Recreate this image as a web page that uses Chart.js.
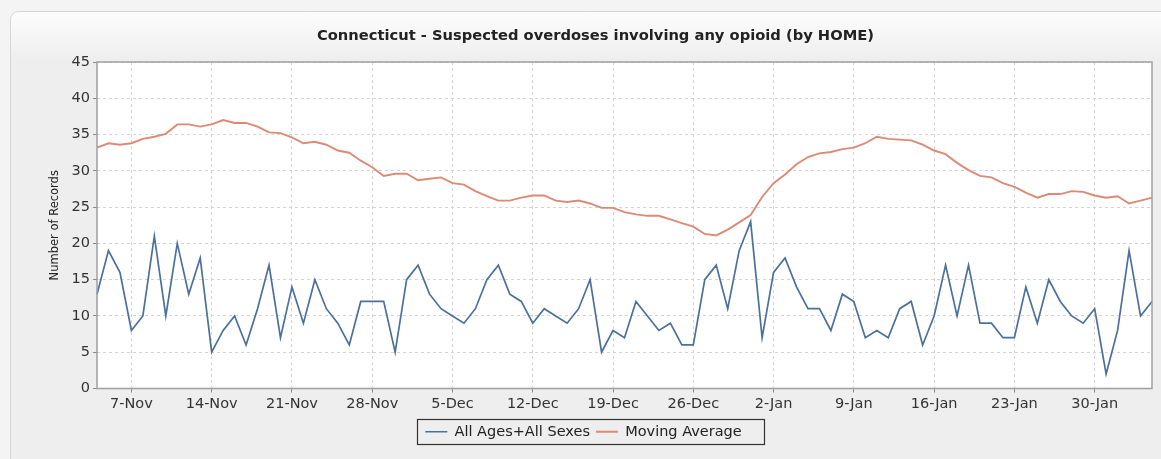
<!DOCTYPE html>
<html>
<head>
<meta charset="utf-8">
<title>Connecticut - Suspected overdoses involving any opioid</title>
<script src="https://cdn.jsdelivr.net/npm/chart.js@4.4.1/dist/chart.umd.min.js"></script>
<style>
  html, body { margin: 0; padding: 0; background: #f4f4f4; }
  #wrap { width: 1161px; height: 459px; }
</style>
</head>
<body>
<div id="wrap"><canvas id="odChart" width="1161" height="459"></canvas></div>
<script>
// Days, 4-Nov to 4-Feb
const days = [
    '4-Nov', '5-Nov', '6-Nov', '7-Nov', '8-Nov', '9-Nov', '10-Nov', '11-Nov', '12-Nov', '13-Nov',
    '14-Nov', '15-Nov', '16-Nov', '17-Nov', '18-Nov', '19-Nov', '20-Nov', '21-Nov', '22-Nov', '23-Nov',
    '24-Nov', '25-Nov', '26-Nov', '27-Nov', '28-Nov', '29-Nov', '30-Nov',
    '1-Dec', '2-Dec', '3-Dec', '4-Dec', '5-Dec', '6-Dec', '7-Dec', '8-Dec', '9-Dec', '10-Dec',
    '11-Dec', '12-Dec', '13-Dec', '14-Dec', '15-Dec', '16-Dec', '17-Dec', '18-Dec', '19-Dec', '20-Dec',
    '21-Dec', '22-Dec', '23-Dec', '24-Dec', '25-Dec', '26-Dec', '27-Dec', '28-Dec', '29-Dec', '30-Dec', '31-Dec',
    '1-Jan', '2-Jan', '3-Jan', '4-Jan', '5-Jan', '6-Jan', '7-Jan', '8-Jan', '9-Jan', '10-Jan',
    '11-Jan', '12-Jan', '13-Jan', '14-Jan', '15-Jan', '16-Jan', '17-Jan', '18-Jan', '19-Jan', '20-Jan',
    '21-Jan', '22-Jan', '23-Jan', '24-Jan', '25-Jan', '26-Jan', '27-Jan', '28-Jan', '29-Jan', '30-Jan', '31-Jan',
    '1-Feb', '2-Feb', '3-Feb', '4-Feb'
];

// Labels shown on the x axis
const weekTicks = ['7-Nov', '14-Nov', '21-Nov', '28-Nov', '5-Dec', '12-Dec', '19-Dec', '26-Dec',
    '2-Jan', '9-Jan', '16-Jan', '23-Jan', '30-Jan'];

// Daily counts
const dailyCounts = [
    13, 19, 16, 8, 10, 21, 10, 20, 13, 18,
    5, 8, 10, 6, 11, 17, 7, 14, 9, 15,
    11, 9, 6, 12, 12, 12, 5,
    15, 17, 13, 11, 10, 9, 11, 15, 17, 13,
    12, 9, 11, 10, 9, 11, 15, 5, 8, 7,
    12, 10, 8, 9, 6, 6, 15, 17, 11, 19, 23,
    7, 16, 18, 14, 11, 11, 8, 13, 12, 7,
    8, 7, 11, 12, 6, 10, 17, 10, 17, 9,
    9, 7, 7, 14, 9, 15, 12, 10, 9, 11, 2,
    8, 19, 10, 12
];

// Moving average
const movingAvg = [
    33.2, 33.8, 33.6, 33.8, 34.4, 34.7, 35.1, 36.4, 36.4, 36.1,
    36.4, 37.0, 36.6, 36.6, 36.1, 35.3, 35.2, 34.6, 33.8, 34.0,
    33.6, 32.8, 32.5, 31.4, 30.5, 29.3, 29.6,
    29.6, 28.7, 28.9, 29.1, 28.3, 28.1, 27.2, 26.5, 25.9, 25.9,
    26.3, 26.6, 26.6, 25.9, 25.7, 25.9, 25.5, 24.9, 24.9, 24.3,
    24.0, 23.8, 23.8, 23.3, 22.8, 22.3, 21.3, 21.1, 21.9, 22.9, 23.9,
    26.4, 28.3, 29.5, 30.9, 31.9, 32.4, 32.6, 33.0, 33.2, 33.8,
    34.7, 34.4, 34.3, 34.2, 33.6, 32.8, 32.3, 31.1, 30.1, 29.3,
    29.1, 28.3, 27.8, 27.0, 26.3, 26.8, 26.8, 27.2, 27.1, 26.6, 26.3,
    26.5, 25.5, 25.9, 26.3
];

const yTicks = [0, 5, 10, 15, 20, 25, 30, 35, 40, 45];

const chartTitle = 'Connecticut - Suspected overdoses involving any opioid (by HOME)';

// Background panel, white plot area, title, plot border and legend frame
const framePlugin = {
    id: 'frame',
    beforeDraw(chart) {
        const ctx = chart.ctx;
        const area = chart.chartArea;
        ctx.save();
        ctx.fillStyle = '#f4f4f4';
        ctx.fillRect(0, 0, chart.width, chart.height);

        const grad = ctx.createLinearGradient(0, 11, 0, 60);
        grad.addColorStop(0, '#fdfdfd');
        grad.addColorStop(1, '#eeeeee');
        ctx.fillStyle = grad;
        ctx.strokeStyle = '#d6d6d6';
        ctx.lineWidth = 1;
        ctx.beginPath();
        ctx.roundRect(10.5, 11.5, chart.width + 20, chart.height + 20, 8);
        ctx.fill();
        ctx.stroke();

        ctx.fillStyle = '#ffffff';
        ctx.fillRect(area.left, area.top, area.right - area.left, area.bottom - area.top);

        ctx.fillStyle = '#222222';
        ctx.font = 'bold 14.7px "DejaVu Sans"';
        ctx.textAlign = 'center';
        ctx.textBaseline = 'middle';
        ctx.fillText(chartTitle, 595.5, 36);
        ctx.restore();
    },
    afterDraw(chart) {
        const ctx = chart.ctx;
        const area = chart.chartArea;
        ctx.save();
        ctx.strokeStyle = '#a0a0a0';
        ctx.lineWidth = 1.5;
        ctx.strokeRect(area.left, area.top, area.right - area.left, area.bottom - area.top);

        const boxes = chart.legend.legendHitBoxes;
        if (boxes && boxes.length) {
            const first = boxes[0];
            const last = boxes[boxes.length - 1];
            const x1 = Math.round(first.left) - 7.5;
            const x2 = Math.round(last.left + last.width) + 22.5;
            const y1 = Math.round(first.top) - 5.5;
            const y2 = Math.round(first.top + first.height) + 5.5;
            ctx.strokeStyle = '#333333';
            ctx.lineWidth = 1.2;
            ctx.strokeRect(x1, y1, x2 - x1, y2 - y1);
        }
        ctx.restore();
    }
};

const ctx = document.getElementById('odChart').getContext('2d');
const odChart = new Chart(ctx, {
    type: 'line',
    data: {
        labels: days,
        datasets: [
            {
                label: 'All Ages+All Sexes',
                data: dailyCounts,
                borderColor: '#4a709e',
                backgroundColor: '#4a709e',
                borderWidth: 1.7,
                pointRadius: 0,
                tension: 0
            },
            {
                label: 'Moving Average',
                data: movingAvg,
                borderColor: '#dc8a76',
                backgroundColor: '#dc8a76',
                borderWidth: 1.9,
                pointRadius: 0,
                tension: 0
            }
        ]
    },
    options: {
        responsive: false,
        animation: false,
        devicePixelRatio: 1,
        layout: {
            // left padding nudges the centred legend to the right
            padding: { left: 15, right: 9, top: 62, bottom: 10 }
        },
        scales: {
            x: {
                offset: false,
                grid: {
                    color: '#d4d4d4',
                    lineWidth: 1,
                    drawTicks: true,
                    tickLength: 4,
                    tickColor: '#888888',
                    tickBorderDash: []
                },
                border: { display: false, dash: [3, 3] },
                ticks: {
                    autoSkip: false,
                    maxRotation: 0,
                    padding: 3,
                    color: '#333333',
                    font: { family: 'DejaVu Sans', size: 14.5 },
                    callback: function(value) {
                        const lab = this.getLabelForValue(value);
                        return weekTicks.includes(lab) ? lab : null;
                    }
                },
                afterFit(scale) {
                    scale.height = 30;
                }
            },
            y: {
                min: yTicks[0],
                max: yTicks[yTicks.length - 1],
                grid: {
                    color: '#d4d4d4',
                    lineWidth: 1,
                    drawTicks: true,
                    tickLength: 4,
                    tickColor: '#888888',
                    tickBorderDash: []
                },
                border: { display: false, dash: [3, 3] },
                ticks: {
                    stepSize: 5,
                    padding: 3,
                    color: '#333333',
                    font: { family: 'DejaVu Sans', size: 14.5 }
                },
                title: {
                    display: true,
                    text: 'Number of Records',
                    color: '#222222',
                    font: { family: 'DejaVu Sans', size: 11.5 },
                    padding: { top: 33, bottom: 0 }
                },
                afterFit(scale) {
                    scale.width = 82;
                }
            }
        },
        plugins: {
            title: { display: false },
            legend: {
                position: 'bottom',
                labels: {
                    usePointStyle: true,
                    pointStyle: 'line',
                    pointStyleWidth: 22,
                    boxHeight: 12,
                    padding: 6,
                    color: '#222222',
                    font: { family: 'DejaVu Sans', size: 14.5 }
                }
            },
            tooltip: { enabled: false }
        }
    },
    plugins: [framePlugin]
});
</script>
</body>
</html>
